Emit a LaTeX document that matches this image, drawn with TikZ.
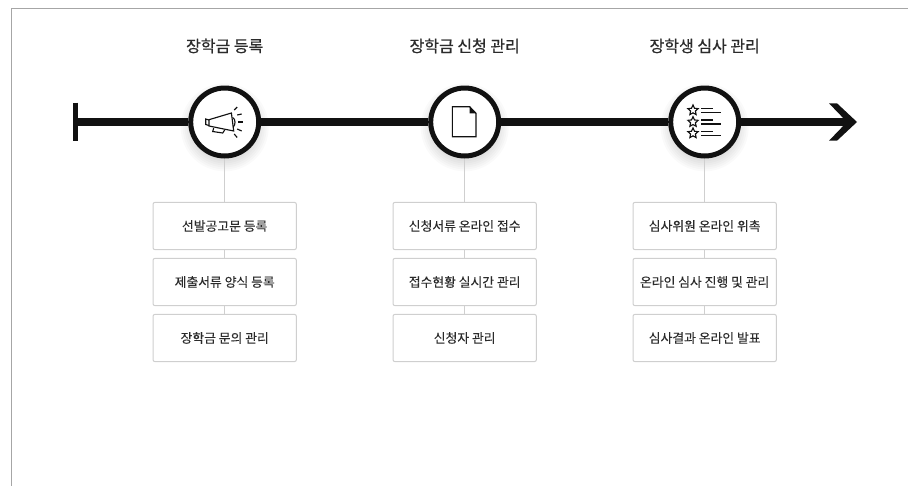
\documentclass[tikz,border=0pt]{standalone}
\usepackage{fontspec}
\setmainfont{Noto Sans CJK KR}
\newfontfamily\headfont[FakeBold=0.7]{Noto Sans CJK KR}
\newfontfamily\taskfont[FakeBold=0.12]{Noto Sans CJK KR}
\usetikzlibrary{shapes.geometric, backgrounds}
\definecolor{ink}{HTML}{111111}
\definecolor{label}{HTML}{2B2B2B}
\definecolor{edge}{HTML}{CFCFCF}
\tikzstyle{stop} = [circle, minimum size=51pt, inner sep=0pt, draw=ink, line width=3.75pt, fill=white]
\tikzstyle{heading} = [text=label, font=\headfont\fontsize{12}{14}\selectfont]
\tikzstyle{task} = [rectangle, rounded corners=1.5pt, minimum width=107.5pt, minimum height=35.5pt, inner sep=0pt, text centered, draw=edge, line width=0.75pt, fill=white, text=label, font=\taskfont\fontsize{9.6}{12}\selectfont]
\tikzstyle{axis} = [line width=5.3pt, draw=ink]
\tikzstyle{link} = [line width=0.75pt, draw=edge]
\tikzstyle{icon} = [line width=0.85pt, draw=ink, line join=miter]
\tikzstyle{rate} = [star, star points=5, star point ratio=2.1, minimum size=8pt, inner sep=0pt, draw=ink, line width=0.85pt]

\begin{document}
\begin{tikzpicture}[x=0.75pt, y=0.75pt, node distance=42pt]
		\useasboundingbox (0,0) rectangle (908,-486);
		\draw [color=black!35, line width=0.75pt] (11,-486) -- (11,-8.5) -- (908,-8.5);

		\node (stepa) [stop] at (224.7,-122) {};
		\node (stepb) [stop, right of=stepa, node distance=180pt] {};
		\node (stepc) [stop, right of=stepb, node distance=180pt] {};

		\node (heada) [heading, above of=stepa, node distance=57pt] {장학금 등록};
		\node (headb) [heading, above of=stepb, node distance=57pt] {장학금 신청 관리};
		\node (headc) [heading, above of=stepc, node distance=57pt] {장학생 심사 관리};

		\node (taska) [task, below of=stepa, node distance=78pt] {선발공고문 등록};
		\node (taskb) [task, below of=taska] {제출서류 양식 등록};
		\node (taskc) [task, below of=taskb] {장학금 문의 관리};
		\node (taskd) [task, below of=stepb, node distance=78pt] {신청서류 온라인 접수};
		\node (taske) [task, below of=taskd] {접수현황 실시간 관리};
		\node (taskf) [task, below of=taske] {신청자 관리};
		\node (taskg) [task, below of=stepc, node distance=78pt] {심사위원 온라인 위촉};
		\node (taskh) [task, below of=taskg] {온라인 심사 진행 및 관리};
		\node (taski) [task, below of=taskh] {심사결과 온라인 발표};

		% soft shadow under the circles
		\begin{pgfonlayer}{background}
			\foreach \s in {stepa,stepb,stepc} {
				\foreach \r in {34,36,...,44} {
					\fill [black, opacity=0.02] ([yshift=-4pt]\s) circle (\r);
				}
			}
		\end{pgfonlayer}

		\coordinate (start) at (75,-122);
		\coordinate (tip) at (847,-122);
		\draw [axis] (start) -- (stepa);
		\draw [axis] (stepa) -- (stepb);
		\draw [axis] (stepb) -- (stepc);
		\draw [axis] (stepc) -- (tip);
		\draw [axis, line width=3.75pt] (75,-102.5) -- (75,-141);
		\fill [ink] (829,-103.3) -- (837,-103.3) -- (857,-122) -- (837,-140.7) -- (829,-140.7) -- (tip) -- cycle;

		\draw [link] (stepa) -- (taska);
		\draw [link] (taska) -- (taskb);
		\draw [link] (taskb) -- (taskc);
		\draw [link] (stepb) -- (taskd);
		\draw [link] (taskd) -- (taske);
		\draw [link] (taske) -- (taskf);
		\draw [link] (stepc) -- (taskg);
		\draw [link] (taskg) -- (taskh);
		\draw [link] (taskh) -- (taski);

		% megaphone
		\begin{scope}[shift={(stepa)}, icon]
			\draw (-15.7,2.3) -- (6.7,9) -- (9,-9) -- (-15.7,-4) -- cycle;
			\draw (-15.7,2) -- (-19,3) -- (-19,-2.5) -- (-15.7,-3.5);
			\draw (-11,-6) -- (-12,-9.5) -- (-2,-11) -- (0,-8);
			\draw (8,4.5) .. controls (11,3) and (11,-3) .. (8.5,-5);
			\draw (9.5,12) -- (12.5,15);
			\draw (12.5,7) -- (17,8);
			\draw (13.5,0) -- (18,0);
			\draw (12.5,-7) -- (17,-9);
			\draw (9.5,-12) -- (12.5,-15.5);
		\end{scope}

		% document
		\begin{scope}[shift={(stepb)}, icon]
			\draw (-12.3,15.3) -- (5,15.3) -- (11.3,8.7) -- (11.3,-14.7) -- (-12.3,-14.7) -- cycle;
			\fill [ink] (5,15.3) -- (5,8.7) -- (11.3,8.7) -- cycle;
		\end{scope}

		% rating list
		\node (rata) [rate] at ([shift={(-11.7,11.7)}]stepc) {};
		\node (ratb) [rate] at ([shift={(-11.7,0)}]stepc) {};
		\node (ratc) [rate] at ([shift={(-11.7,-11.3)}]stepc) {};
		\begin{scope}[shift={(stepc)}, icon]
			\foreach \y in {13.7,2,-9.7} {
				\draw (-3.3,\y) -- (8,\y);
				\draw (-3.3,\y-4) -- (16.7,\y-4);
			}
		\end{scope}
	  \end{tikzpicture}
\end{document}
